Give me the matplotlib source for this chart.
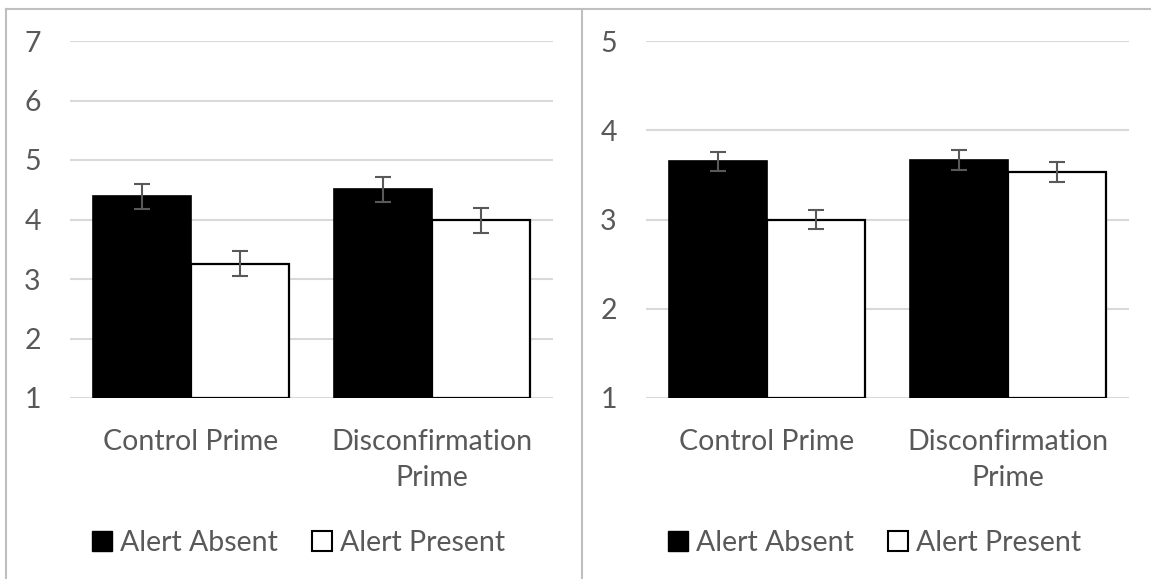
import numpy as np
import matplotlib
matplotlib.use("Agg")
import matplotlib.pyplot as plt
from matplotlib.patches import Patch
from matplotlib.lines import Line2D

plt.rcParams['font.family'] = ['Lato', 'DejaVu Sans']

categories = ["Control Prime", "Disconfirmation\nPrime"]
series = ["Alert Absent", "Alert Present"]

# left panel
left_absent = [4.39, 4.51]
left_present = [3.26, 3.99]
left_absent_err = [0.21, 0.21]
left_present_err = [0.21, 0.21]

# right panel
right_absent = [3.65, 3.67]
right_present = [3.00, 3.53]
right_absent_err = [0.11, 0.11]
right_present_err = [0.11, 0.11]

W, H = 1151, 579
fig = plt.figure(figsize=(W / 100, H / 100), dpi=100)

text_col = "#595959"
grid_col = "#d9d9d9"
fs = 20.5


def panel(x0, ymax, absent, present, a_err, p_err):
    ax = fig.add_axes([x0 / W, (H - 398) / H, 483 / W, 357 / H])
    x = np.arange(len(categories))
    bw = 0.405
    ax.bar(x - bw / 2, np.array(absent) - 1, bw, bottom=1, color="black",
           edgecolor="black", linewidth=1.2, zorder=3)
    ax.bar(x + bw / 2, np.array(present) - 1, bw, bottom=1, color="white",
           edgecolor="black", linewidth=1.6, zorder=3)
    ax.errorbar(x - bw / 2, absent, yerr=a_err, fmt="none", ecolor=text_col,
                elinewidth=1.5, capsize=5.5, capthick=1.5, zorder=4)
    ax.errorbar(x + bw / 2, present, yerr=p_err, fmt="none", ecolor=text_col,
                elinewidth=1.5, capsize=5.5, capthick=1.5, zorder=4)
    ax.set_xlim(-0.5, len(categories) - 0.5)
    ax.set_ylim(1, ymax)
    ax.set_yticks(range(1, ymax + 1))
    ax.yaxis.grid(True, color=grid_col, linewidth=1.5, zorder=0)
    for s in ax.spines.values():
        s.set_visible(False)
    ax.set_xticks(x)
    ax.set_xticklabels(categories, fontsize=fs, color=text_col, linespacing=1.5)
    ax.tick_params(axis="y", length=0, labelsize=fs, labelcolor=text_col, pad=21)
    ax.tick_params(axis="x", length=0, pad=22)
    handles = [Patch(facecolor="black", edgecolor="black", label=series[0]),
               Patch(facecolor="white", edgecolor="black", linewidth=1.5, label=series[1])]
    ax.legend(handles=handles, loc="center", bbox_to_anchor=(0.474, -0.405), ncol=2,
              frameon=False, fontsize=fs, labelcolor=text_col, handlelength=0.7,
              handleheight=0.7, handletextpad=0.28, columnspacing=1.2)
    return ax


panel(70, 7, left_absent, left_present, left_absent_err, left_present_err)
panel(646, 5, right_absent, right_present, right_absent_err, right_present_err)

# chart borders
bc = "#bfbfbf"
fig.add_artist(Line2D([6 / W, 1], [1 - 9 / H, 1 - 9 / H], color=bc, linewidth=1.5))
fig.add_artist(Line2D([6 / W, 6 / W], [0, 1 - 9 / H], color=bc, linewidth=1.5))
fig.add_artist(Line2D([582 / W, 582 / W], [0, 1 - 9 / H], color=bc, linewidth=1.5))

fig.savefig("out.png", dpi=100)
